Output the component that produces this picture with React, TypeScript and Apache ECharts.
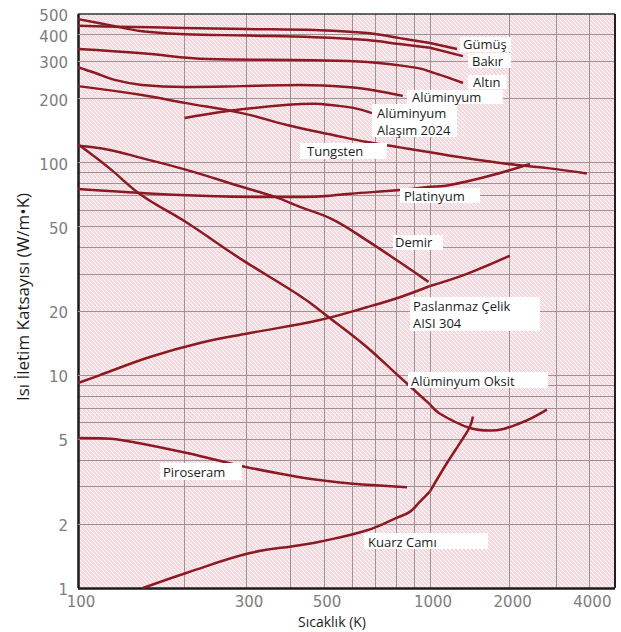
import React, { useEffect, useRef } from "react";
import * as echarts from "echarts";

// ---- Data (T in K, k in W/m·K) ----
const SPLIT_T = 1000;

const gumusT = [100, 130, 200, 300, 470, 663, 820, 1000, 1265];
const gumusK = [440, 436, 430, 425, 420, 407, 385, 365, 342];

const bakirT = [100, 122, 152, 201, 300, 470, 663, 820, 1000, 1332];
const bakirK = [473, 444, 415, 402, 396, 389, 377, 361, 347, 317];

const altinT = [100, 152, 234, 470, 663, 917, 1000, 1150, 1332];
const altinK = [342, 327, 307, 303, 297, 279, 268, 253, 237];

const aluT = [100, 112, 127, 152, 201, 292, 427, 594, 736, 837];
const aluK = [281, 264, 245, 232, 227, 229, 232, 226, 215, 206];

const alasimT = [201, 267, 395, 470, 530, 606, 684];
const alasimK = [162, 175, 187, 189, 186, 181, 171];

const tungstenT = [100, 152, 201, 292, 395, 530, 663, 821, 1000, 1379, 2128, 2837, 3913];
const tungstenK = [229, 208, 191, 171, 150, 135, 125, 118, 112, 105, 97.5, 94, 89];

const platinT = [100, 152, 234, 350, 470, 594, 821, 1000, 1190, 1641, 2385];
const platinK = [75.2, 72, 69.7, 68.9, 69.2, 71.5, 74.3, 77, 78.5, 86, 98.5];

const demirT = [100, 122, 152, 201, 292, 363, 427, 530, 663, 821, 990];
const demirK = [120, 115, 105, 93, 77, 69, 62, 54, 43, 34, 27.5];

const paslanmazT = [100, 115, 160, 222, 308, 486, 661, 821, 1000, 1379, 2004];
const paslanmazK = [9.2, 10.0, 12.2, 14.2, 15.8, 18.2, 20.9, 23.3, 26.3, 30, 36.5];

const oksitT = [100, 122, 152, 201, 292, 433, 519, 661, 821, 1000, 1091, 1415, 1685, 2185, 2765];
const oksitK = [122, 95, 70, 53, 35, 23.3, 18.6, 13.6, 9.8, 7.3, 6.6, 5.65, 5.5, 5.95, 6.9];

const piroseramT = [100, 120, 143, 204, 302, 427, 486, 594, 860];
const piroseramK = [5.07, 5.05, 4.86, 4.31, 3.7, 3.32, 3.22, 3.1, 2.98];

const kuarzT = [153, 204, 308, 427, 486, 663, 800, 876, 935, 1000, 1159, 1297, 1412, 1453];
const kuarzK = [1.0, 1.18, 1.46, 1.59, 1.65, 1.87, 2.13, 2.28, 2.54, 2.85, 3.87, 4.8, 5.7, 6.4];

// ---- Tick labels and grid values ----
const xLabelsLow = [100, 300, 500, 1000];
const xLabelsHigh = [2000, 4000];
const yLabels = [1, 2, 5, 10, 20, 50, 100, 200, 300, 400, 500];
const xGridLow = [200, 300, 400, 500, 600, 700, 800, 900, 1000];
const xGridHigh = [2000, 3000, 4000];
const yGrid = [2, 3, 4, 5, 6, 7, 8, 9, 10, 20, 30, 40, 50, 60, 70, 80, 90, 100, 200, 300, 400];

const materials = [
  { name: "Gümüş", t: gumusT, k: gumusK },
  { name: "Bakır", t: bakirT, k: bakirK },
  { name: "Altın", t: altinT, k: altinK },
  { name: "Alüminyum", t: aluT, k: aluK },
  { name: "Alüminyum Alaşım 2024", t: alasimT, k: alasimK },
  { name: "Tungsten", t: tungstenT, k: tungstenK },
  { name: "Platinyum", t: platinT, k: platinK },
  { name: "Demir", t: demirT, k: demirK },
  { name: "Paslanmaz Çelik AISI 304", t: paslanmazT, k: paslanmazK },
  { name: "Alüminyum Oksit", t: oksitT, k: oksitK },
  { name: "Piroseram", t: piroseramT, k: piroseramK },
  { name: "Kuarz Camı", t: kuarzT, k: kuarzK },
];

// ---- Annotation boxes (layout) ----
const notes = [
  { lines: ["Gümüş"], x: 460, y: 37, w: 51, h: 15, tx: 463, cy: 44 },
  { lines: ["Bakır"], x: 468, y: 53, w: 43, h: 15, tx: 472, cy: 61 },
  { lines: ["Altın"], x: 468, y: 75, w: 39, h: 14, tx: 473, cy: 82 },
  { lines: ["Alüminyum"], x: 407, y: 90, w: 96, h: 14, tx: 412, cy: 97 },
  { lines: ["Alüminyum", "Alaşım 2024"], x: 372, y: 104, w: 85, h: 33, tx: 377, cy: 112.5 },
  { lines: ["Tungsten"], x: 300, y: 143, w: 87, h: 16, tx: 307, cy: 151 },
  { lines: ["Platinyum"], x: 400, y: 188, w: 80, h: 15, tx: 404, cy: 195.5 },
  { lines: ["Demir"], x: 393, y: 235, w: 50, h: 15, tx: 395, cy: 242 },
  { lines: ["Paslanmaz Çelik", "AISI 304"], x: 410, y: 297, w: 130, h: 34, tx: 413, cy: 306 },
  { lines: ["Alüminyum Oksit"], x: 408, y: 372, w: 140, h: 16, tx: 411, cy: 380.5 },
  { lines: ["Piroseram"], x: 160, y: 463, w: 82, h: 17, tx: 163, cy: 471.5 },
  { lines: ["Kuarz Camı"], x: 364, y: 533, w: 124, h: 16, tx: 368, cy: 541.5 },
];

const CURVE = "#8b1a22";
const GRIDLINE = "#a08f96";
const TICK_FONT = { color: "#7d7d7d", fontFamily: "DejaVu Sans", fontSize: 15 };
const NOTE_FONT = "13px 'Open Sans'";

function makeHatch() {
  const c = document.createElement("canvas");
  c.width = 4;
  c.height = 4;
  const ctx = c.getContext("2d")!;
  ctx.fillStyle = "#f6d8dd";
  ctx.fillRect(0, 0, 4, 4);
  ctx.fillStyle = "rgba(255,255,255,0.95)";
  for (let i = 0; i < 4; i++) ctx.fillRect(i, i, 1, 1);
  return { image: c, repeat: "repeat", imageWidth: 4, imageHeight: 4 } as any;
}

export default function App() {
  const ref = useRef<HTMLDivElement>(null);

  useEffect(() => {
    if (!ref.current) return;
    const chart = echarts.init(ref.current, undefined, { renderer: "svg" });
    const hatch = makeHatch();

    const series: any[] = [];

    const lineStyleBase = { color: GRIDLINE, width: 1, type: "solid" };
    const frame = { color: "#1a1a1a", width: 2.5, type: "solid" };

    const lowMarks: any[] = [
      ...xGridLow.map((v) => ({ xAxis: v })),
      ...yGrid.map((v) => ({ yAxis: v })),
      ...xLabelsLow.map((v) => ({
        xAxis: v,
        lineStyle: v === 100 ? frame : lineStyleBase,
        label: { show: true, position: "start", formatter: String(v), distance: 6, offset: [3, 0], ...TICK_FONT },
      })),
      ...yLabels.map((v) => ({
        yAxis: v,
        lineStyle: v === 1 ? frame : v === 500 ? { color: "#333", width: 1.5, type: "solid" } : lineStyleBase,
        label: { show: true, position: "start", formatter: String(v), distance: 10, offset: [0, 2], ...TICK_FONT },
      })),
    ];
    series.push({
      type: "line",
      xAxisIndex: 0,
      yAxisIndex: 0,
      data: [],
      z: 1,
      silent: true,
      markLine: {
        z: 1,
        silent: true,
        animation: false,
        symbol: ["none", "none"],
        label: { show: false },
        lineStyle: lineStyleBase,
        data: lowMarks,
      },
    });

    const highMarks: any[] = [
      ...xGridHigh.map((v) => ({ xAxis: v })),
      ...yGrid.map((v) => ({ yAxis: v })),
      ...xLabelsHigh.map((v) => ({
        xAxis: v,
        label: { show: true, position: "start", formatter: String(v), distance: 6, offset: [3, 0], ...TICK_FONT },
      })),
      { yAxis: 1, lineStyle: frame },
      { yAxis: 500, lineStyle: { color: "#333", width: 1.5, type: "solid" } },
      { xAxis: 5000, lineStyle: { color: "#222", width: 2, type: "solid" } },
    ];
    series.push({
      type: "line",
      xAxisIndex: 1,
      yAxisIndex: 1,
      data: [],
      z: 1,
      silent: true,
      markLine: {
        z: 1,
        silent: true,
        animation: false,
        symbol: ["none", "none"],
        label: { show: false },
        lineStyle: lineStyleBase,
        data: highMarks,
      },
    });

    materials.forEach((m) => {
      const pts = m.t.map((t, i) => [t, m.k[i]]);
      const lo = pts.filter((p) => p[0] <= SPLIT_T);
      const hi = pts.filter((p) => p[0] >= SPLIT_T);
      const common = {
        type: "line",
        name: m.name,
        showSymbol: false,
        symbol: "none",
        smooth: 0.4,
        z: 3,
        lineStyle: { color: CURVE, width: 2.5 },
      };
      if (lo.length > 1) series.push({ ...common, xAxisIndex: 0, yAxisIndex: 0, data: lo });
      if (hi.length > 1) series.push({ ...common, xAxisIndex: 1, yAxisIndex: 1, data: hi });
    });

    const hiddenAxis = {
      axisLine: { show: false },
      axisTick: { show: false },
      axisLabel: { show: false },
      splitLine: { show: false },
      minorTick: { show: false },
    };

    const graphics: any[] = [];
    notes.forEach((n) => {
      graphics.push({
        type: "rect",
        z: 100,
        shape: { x: n.x, y: n.y, width: n.w, height: n.h },
        style: { fill: "#ffffff" },
        silent: true,
      });
      n.lines.forEach((line, i) => {
        graphics.push({
          type: "text",
          z: 101,
          x: n.tx,
          y: n.cy + i * 17,
          style: {
            text: line,
            font: NOTE_FONT,
            fill: "#1c1c1c",
            textAlign: "left",
            textVerticalAlign: "middle",
          },
          silent: true,
        });
      });
    });
    graphics.push({
      type: "text",
      z: 101,
      x: 332,
      y: 621,
      style: {
        text: "Sıcaklık (K)",
        font: "14px 'Open Sans'",
        fill: "#1c1c1c",
        textAlign: "center",
        textVerticalAlign: "middle",
      },
    });
    graphics.push({
      type: "text",
      z: 101,
      x: 22,
      y: 297,
      rotation: Math.PI / 2,
      style: {
        text: "Isı İletim Katsayısı (W/m•K)",
        font: "17px 'Open Sans'",
        fill: "#1c1c1c",
        textAlign: "center",
        textVerticalAlign: "middle",
      },
    });

    chart.setOption({
      animation: false,
      backgroundColor: "#ffffff",
      grid: [
        { left: 78, top: 14, width: 352, height: 574, show: true, backgroundColor: hatch, borderWidth: 0 },
        { left: 430, top: 14, width: 185, height: 574, show: true, backgroundColor: hatch, borderWidth: 0 },
      ],
      xAxis: [
        { type: "log", logBase: 10, gridIndex: 0, min: 100, max: 1000, ...hiddenAxis },
        { type: "log", logBase: 10, gridIndex: 1, min: 1000, max: 5000, ...hiddenAxis },
      ],
      yAxis: [
        { type: "log", logBase: 10, gridIndex: 0, min: 1, max: 500, ...hiddenAxis },
        { type: "log", logBase: 10, gridIndex: 1, min: 1, max: 500, ...hiddenAxis },
      ],
      series,
      graphic: graphics,
    });

    return () => chart.dispose();
  }, []);

  return (
    <div
      ref={ref}
      style={{ position: "fixed", left: 0, top: 0, width: 621, height: 632 }}
    />
  );
}
